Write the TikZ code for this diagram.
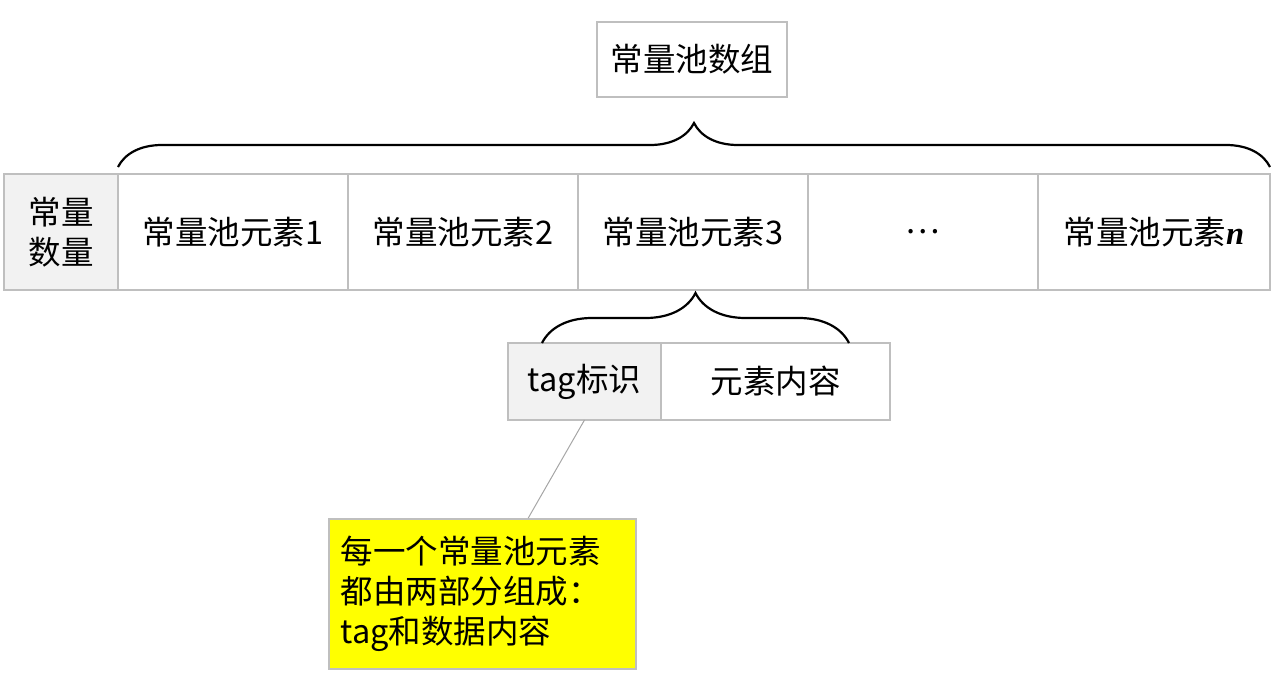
\documentclass[tikz,border=0pt]{standalone}
\usepackage{fontspec}
\setmainfont{Noto Sans CJK SC}
\newfontfamily\latinserif{Liberation Serif}
\usetikzlibrary{positioning, decorations.pathreplacing}
\definecolor{CellLine}{HTML}{BFBFBF}
\definecolor{CellGrey}{HTML}{F2F2F2}
\definecolor{NoteYellow}{HTML}{FFFF00}
\definecolor{NoteLine}{HTML}{A6A6A6}

\begin{document}
\begin{tikzpicture}[x=1pt, y=1pt,
    font=\fontsize{32.5}{40}\selectfont,
    cell/.style={draw=CellLine, line width=1.5pt, inner sep=0pt, outer sep=0pt,
                 align=center, minimum height=116pt, minimum width=230pt},
    keycell/.style={cell, fill=CellGrey},
    subcell/.style={cell, minimum height=77pt},
    curly/.style={decorate, decoration={brace, amplitude=#1}, line width=2.2pt}]
  \useasboundingbox (0,0) rectangle (1280,-675);

  % array title
  \node[cell, minimum width=190pt, minimum height=75pt] (pool) at (692,-59.5) {常量池数组};

  % main row
  \node[keycell, minimum width=114pt, anchor=north west] (count) at (4,-174) {常量\\数量};
  \node[cell, right=0pt of count] (elem1) {常量池元素1};
  \node[cell, right=0pt of elem1] (elem2) {常量池元素2};
  \node[cell, right=0pt of elem2] (elem3) {常量池元素3};
  \node[cell, right=0pt of elem3] (dots) {…};
  \node[cell, minimum width=232pt, right=0pt of dots] (elemn) {常量池元素{\latinserif\bfseries\itshape n}};

  % one element split in two
  \node[subcell, fill=CellGrey, minimum width=153pt, anchor=north west] (tag) at (508,-343) {tag标识};
  \node[subcell, minimum width=229pt, right=0pt of tag] (content) {元素内容};

  % braces
  \draw[curly=44pt] ([yshift=7pt]elem1.north west) -- ([yshift=7pt]elemn.north east);
  \draw[curly=50pt] ([xshift=34pt]tag.north west) -- ([xshift=-41pt]content.north east);

  % note
  \node[draw=CellLine, line width=1.5pt, fill=NoteYellow, minimum width=307pt, minimum height=150pt,
        text width=283pt, inner xsep=12pt, align=left, anchor=north west] (note) at (328,-518)
    {每一个常量池元素\\都由两部分组成：\\tag和数据内容};
  \draw[NoteLine, line width=1pt] (tag.south) -- ([xshift=46pt]note.north);
\end{tikzpicture}
\end{document}
